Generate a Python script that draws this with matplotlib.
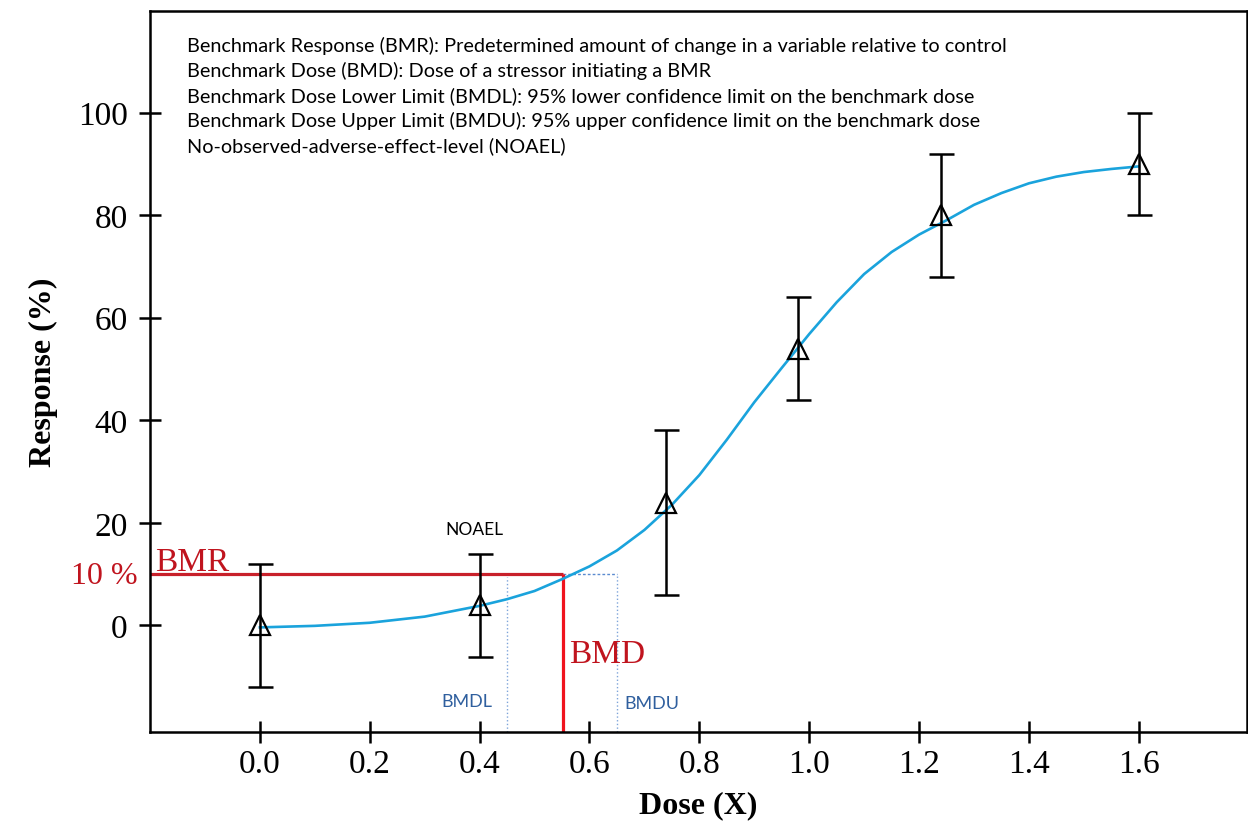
import matplotlib
matplotlib.use("Agg")
import matplotlib.pyplot as plt
import numpy as np

# observed dose-response points
dose = [0.0, 0.4, 0.74, 0.98, 1.24, 1.6]
resp = [0.0, 3.9, 23.8, 53.9, 80.0, 90.0]
resp_hi = [12.0, 14.0, 38.0, 64.0, 92.0, 100.0]
resp_lo = [-12.0, -6.2, 6.0, 44.0, 68.0, 80.0]

# fitted curve, points
curve_x = [0.0, 0.1, 0.2, 0.3, 0.4, 0.45, 0.5, 0.55, 0.6, 0.65, 0.7, 0.75,
           0.8, 0.85, 0.9, 0.95, 1.0, 1.05, 1.1, 1.15, 1.2, 1.25, 1.3, 1.35,
           1.4, 1.45, 1.5, 1.55, 1.6]
curve_y = [-0.4, -0.1, 0.5, 1.7, 3.8, 5.1, 6.7, 9.0, 11.5, 14.6, 18.6, 23.5,
           29.3, 36.2, 43.5, 50.2, 56.8, 63.0, 68.5, 72.8, 76.2, 79.0, 82.0,
           84.3, 86.2, 87.5, 88.4, 89.0, 89.5]

bmr = 10
bmd = 0.552
bmdl = 0.45
bmdu = 0.65

notes = [
    "Benchmark Response (BMR): Predetermined amount of change in a variable relative to control",
    "Benchmark Dose (BMD): Dose of a stressor initiating a BMR",
    "Benchmark Dose Lower Limit (BMDL): 95% lower confidence limit on the benchmark dose",
    "Benchmark Dose Upper Limit (BMDU): 95% upper confidence limit on the benchmark dose",
    "No-observed-adverse-effect-level (NOAEL)",
]

plt.rcParams['font.family'] = ['Liberation Serif', 'DejaVu Serif']

fig = plt.figure(figsize=(12.48, 8.29), dpi=100)
ax = fig.add_axes([0.1202, 0.1158, 0.879, 0.8697])

xmin, xmax = -0.2, 1.797
ymin, ymax = -20.8, 119.8
ax.set_xlim(xmin, xmax)
ax.set_ylim(ymin, ymax)

# BMR / BMD guide lines
ax.plot([xmin, bmd], [bmr, bmr], color='#c8202a', lw=2.3, solid_capstyle='butt', zorder=2)
ax.plot([bmd, bmd], [ymin, bmr], color='#f0141e', lw=2.3, solid_capstyle='butt', zorder=2)
ax.plot([bmd, bmdu], [bmr, bmr], color='#5b8bd0', lw=1.0, ls=(0, (2, 1.5)), zorder=1)
ax.plot([bmdl, bmdl], [ymin, bmr - 0.5], color='#7ea4da', lw=1.0, ls=':', zorder=1)
ax.plot([bmdu, bmdu], [ymin, bmr], color='#7ea4da', lw=1.0, ls=':', zorder=1)

# fitted curve
ax.plot(curve_x, curve_y, color='#1aa3dc', lw=1.9, zorder=3,
        solid_joinstyle='round')

# data with error bars
resp_a = np.array(resp)
yerr = [resp_a - np.array(resp_lo), np.array(resp_hi) - resp_a]
ax.errorbar(dose, resp, yerr=yerr, fmt='none', ecolor='black',
            elinewidth=1.8, capsize=9, capthick=1.8, zorder=4)
ax.plot(dose, resp, ls='none', marker='^', ms=14, mfc='none',
        mec='black', mew=1.6, zorder=5)

# labels inside the plot
ax.text(-0.19, 10.7, "BMR", color='#c0141e', fontsize=24, ha='left', va='baseline')
ax.text(-0.222, 9.8, "10 %", color='#c0141e', fontsize=23, ha='right', va='center',
        clip_on=False)
ax.text(0.563, -7.2, "BMD", color='#c0141e', fontsize=24, ha='left', va='baseline')
ax.text(0.377, -14.8, "BMDL", color='#2f5f9e', fontsize=13, ha='center', va='center',
        family=['Lato', 'DejaVu Sans'])
ax.text(0.663, -15.2, "BMDU", color='#2f5f9e', fontsize=13, ha='left', va='center',
        family=['Lato', 'DejaVu Sans'])
ax.text(0.391, 18.8, "NOAEL", color='black', fontsize=12.5, ha='center', va='center',
        family=['Lato', 'DejaVu Sans'])

for i, line in enumerate(notes):
    ax.text(0.034, 0.953 - i * 0.0347, line, transform=ax.transAxes,
            fontsize=14.3, ha='left', va='center', family=['Lato', 'DejaVu Sans'])

ax.set_xticks(np.arange(0, 1.61, 0.2))
ax.set_xticklabels(["%.1f" % v for v in np.arange(0, 1.61, 0.2)])
ax.set_yticks(range(0, 101, 20))
ax.tick_params(direction='inout', length=16, width=1.8, labelsize=24, color='black')
ax.tick_params(axis='x', pad=4)
ax.tick_params(axis='y', pad=8)
for s in ax.spines.values():
    s.set_linewidth(1.8)

ax.set_xlabel("Dose (X)", fontsize=23, fontweight='bold', labelpad=8)
ax.set_ylabel("Response (%)", fontsize=23, fontweight='bold', labelpad=14)

fig.savefig('out.png', dpi=100)
